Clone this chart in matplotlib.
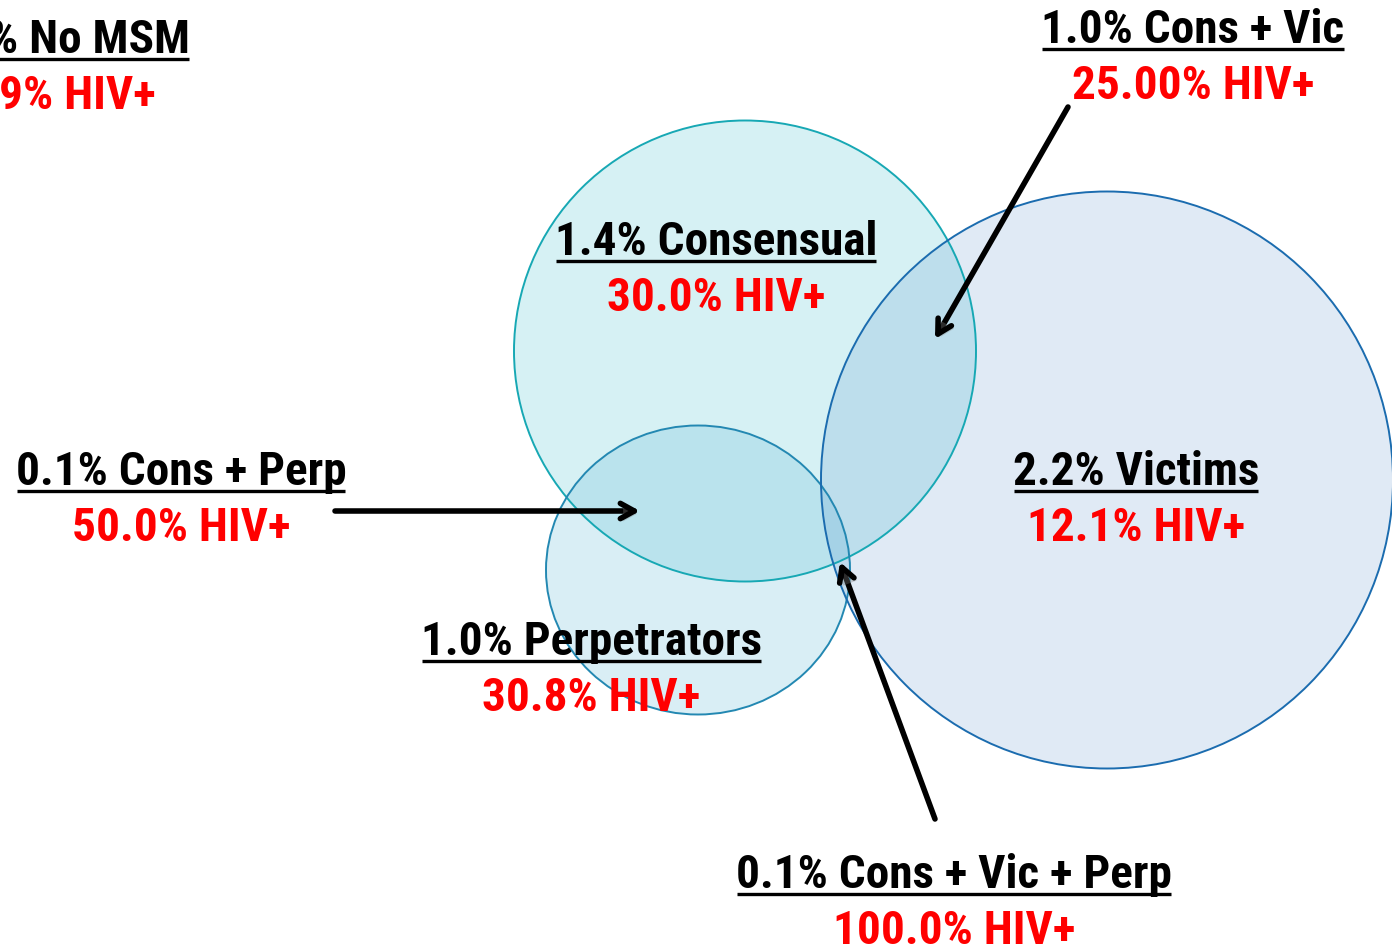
import matplotlib
matplotlib.use("Agg")
import matplotlib.pyplot as plt
from matplotlib import font_manager
from matplotlib.patches import Ellipse
import matplotlib.patheffects as pe

# ---- data ----
group_labels = ["1.4% Consensual", "2.2% Victims", "1.0% Perpetrators",
                "1.0% Cons + Vic", "0.1% Cons + Perp", "0.1% Cons + Vic + Perp",
                "% No MSM"]
hiv_labels = ["30.0% HIV+", "12.1% HIV+", "30.8% HIV+",
              "25.00% HIV+", "50.0% HIV+", "100.0% HIV+",
              "9% HIV+"]

# ---- font ----
def pick_font():
    for name in ["Liberation Sans Narrow", "Arial Narrow", "Roboto Condensed",
                 "Open Sans Condensed", "Liberation Sans", "DejaVu Sans"]:
        try:
            font_manager.findfont(font_manager.FontProperties(family=name),
                                  fallback_to_default=False)
            return name
        except Exception:
            continue
    return "DejaVu Sans"

FONT = pick_font()

W, H = 1392, 953
fig = plt.figure(figsize=(W / 100, H / 100), dpi=100)
ax = fig.add_axes([0, 0, 1, 1])
ax.set_xlim(0, W)
ax.set_ylim(H, 0)
ax.set_aspect("equal")
ax.axis("off")

# ---- circles ----
circles = [
    # (cx, cy, w, h, face rgba, edge)
    (745, 352, 462, 461, (30/255, 180/255, 195/255, 0.18), "#17a8b4"),   # Consensual
    (698, 571, 304, 289, (100/255, 185/255, 215/255, 0.24), "#2388b2"),  # Perpetrators
    (1107, 481, 572, 577, (40/255, 110/255, 190/255, 0.14), "#1b6caf"),  # Victims
]
for cx, cy, w, h, fc, ec in circles:
    ax.add_patch(Ellipse((cx, cy), w, h, facecolor=fc, edgecolor="none", zorder=1))
for cx, cy, w, h, fc, ec in circles:
    ax.add_patch(Ellipse((cx, cy), w, h, facecolor="none", edgecolor=ec, lw=1.4, zorder=2))

# ---- labels ----
label_pos = [
    (716, 255, "center"),
    (1136, 485, "center"),
    (591, 655, "center"),
    (1193, 43, "center"),
    (181, 485, "center"),
    (954, 888, "center"),
    (190, 53, "right"),
]
FS = 34
texts = []
for (x, y, ha), g, hv in zip(label_pos, group_labels, hiv_labels):
    t = ax.text(x, y, g, ha=ha, va="baseline", fontsize=FS, fontweight="bold",
                family=FONT, color="black", zorder=5)
    ax.text(x if ha == "center" else x - 34, y + 56, hv, ha=ha, va="baseline",
            fontsize=FS, fontweight="bold", family=FONT, color="#ff0000", zorder=5)
    texts.append((t, y))

fig.canvas.draw()
renderer = fig.canvas.get_renderer()
inv = ax.transData.inverted()
for t, y in texts:
    bb = t.get_window_extent(renderer)
    (x0, _), (x1, _) = inv.transform([(bb.x0, bb.y0), (bb.x1, bb.y1)])
    ax.plot([x0 + 1, x1 - 1], [y + 7, y + 7], color="black", lw=2.4,
            solid_capstyle="butt", zorder=5)

# ---- arrows ----
arrows = [
    ((1068, 108), (935, 340)),
    ((335, 512), (640, 512)),
    ((935, 820), (840, 563)),
]
for start, end in arrows:
    ax.annotate("", xy=end, xytext=start,
                arrowprops=dict(arrowstyle="->,head_length=1.0,head_width=0.55",
                                lw=4.0, color="black", shrinkA=0, shrinkB=0,
                                path_effects=[pe.withSimplePatchShadow(offset=(2, -2),
                                                                       shadow_rgbFace="gray",
                                                                       alpha=0.35)]),
                zorder=6)

fig.savefig("out.png", dpi=100)
